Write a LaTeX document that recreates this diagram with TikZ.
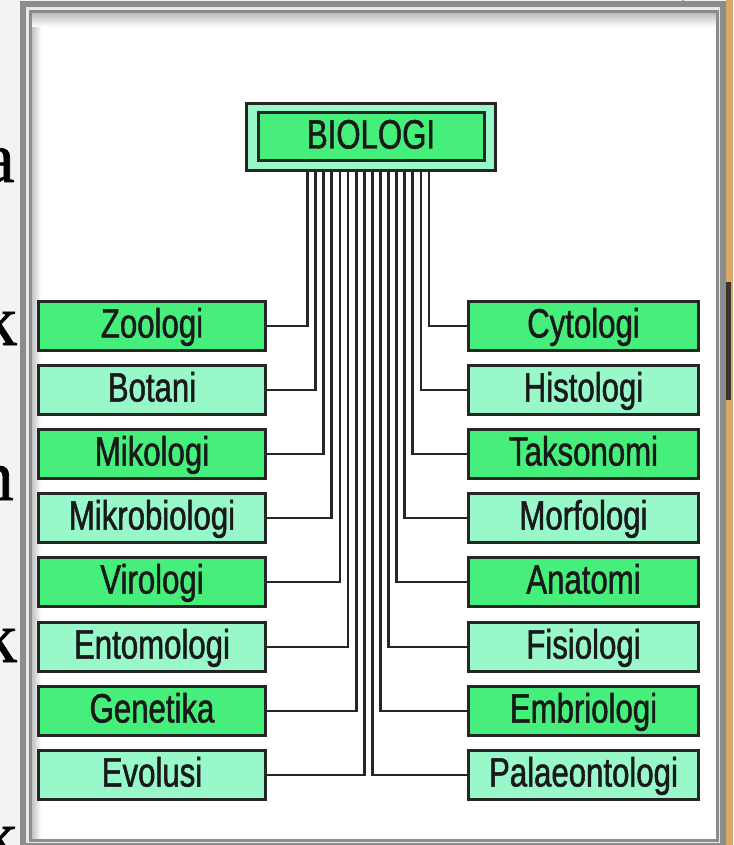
\documentclass[tikz,border=0pt]{standalone}
\usepackage{fontspec}
\newfontfamily\boxfont{Liberation Sans}[FakeStretch=0.76,FakeBold=1.2]
\newfontfamily\slidefont{Liberation Serif}[FakeBold=1]
\definecolor{leafdark}{HTML}{46EE7C}
\definecolor{leaflight}{HTML}{98F8CA}
\definecolor{edgegray}{HTML}{262626}
\definecolor{framegray}{HTML}{8C8C8C}
\definecolor{slidebg}{HTML}{F3F3F3}
\definecolor{slidetan}{HTML}{D8A868}
\definecolor{slidebar}{HTML}{3A3330}

\begin{document}
\begin{tikzpicture}[x=1pt,y=-1pt,
  box/.style={draw=edgegray,line width=3pt,minimum width=227pt,minimum height=49pt,inner sep=0pt,
    text height=31pt,text depth=8pt,text=black!90,font=\boxfont\fontsize{41}{41}\selectfont},
  dark/.style={box,fill=leafdark},
  light/.style={box,fill=leaflight},
  wide/.style={minimum width=230pt},
  link/.style={draw=edgegray,line width=2.8pt},
  ltr/.style={anchor=base east,inner sep=0pt,font=\slidefont\fontsize{72}{72}\selectfont}]
 \useasboundingbox (0,0) rectangle (733,845);
 \fill[slidebg] (0,0) rectangle (733,845);
 \begin{scope}
  \clip (0,0) rectangle (19,845);
  \node[ltr] (ltra) at (15,182) {a};
  \node[ltr] (ltrb) at (17,345) {k};
  \node[ltr] (ltrc) at (14,500) {n};
  \node[ltr] (ltrd) at (17,662) {k};
  \node[ltr] (ltre) at (17,860) {k};
 \end{scope}
 \fill[slidetan] (726,0) rectangle (733,845);
 \fill[slidebar] (724,282) rectangle (731,400);
 \draw[olive!60,line width=1.5pt] (683,0)--(683,8);
 \draw[olive!60,line width=1.5pt] (683,841)--(683,845);
 \fill[gray!18] (23,4) rectangle (723,846);
 \fill[white] (30.5,12) rectangle (717,840);
 \shade[left color=gray!55,right color=white] (30.5,12) rectangle (41,840);
 \shade[top color=gray!55,bottom color=white] (30.5,12) rectangle (717,27);
 \draw[framegray,line width=3pt] (30.5,12) rectangle (717,840);
 \draw[framegray,line width=6pt] (23,4) rectangle (723,846);

 \node[light,minimum width=249pt,minimum height=67pt] (bioframe) at (371,137) {};
 \node[dark,minimum width=226pt,minimum height=48pt] (bio) at (371,137) {BIOLOGI};

 \node[dark] (zoo) at (152,326) {Zoologi};
 \node[light] (bot) at (152,390) {Botani};
 \node[dark] (mik) at (152,454) {Mikologi};
 \node[light] (mikro) at (152,518) {Mikrobiologi};
 \node[dark] (vir) at (152,582) {Virologi};
 \node[light] (ento) at (152,647) {Entomologi};
 \node[dark] (gen) at (152,711) {Genetika};
 \node[light] (evo) at (152,775) {Evolusi};

 \node[dark,wide] (cyt) at (583.5,326) {Cytologi};
 \node[light,wide] (his) at (583.5,390) {Histologi};
 \node[dark,wide] (tak) at (583.5,454) {Taksonomi};
 \node[light,wide] (mor) at (583.5,518) {Morfologi};
 \node[dark,wide] (ana) at (583.5,582) {Anatomi};
 \node[light,wide] (fis) at (583.5,647) {Fisiologi};
 \node[dark,wide] (emb) at (583.5,711) {Embriologi};
 \node[light,wide] (pal) at (583.5,775) {Palaeontologi};

 \draw[link] ([xshift=-63.5pt]bioframe.south) |- (zoo.east);
 \draw[link] ([xshift=-55.4pt]bioframe.south) |- (bot.east);
 \draw[link] ([xshift=-47.3pt]bioframe.south) |- (mik.east);
 \draw[link] ([xshift=-39.2pt]bioframe.south) |- (mikro.east);
 \draw[link] ([xshift=-31.1pt]bioframe.south) |- (vir.east);
 \draw[link] ([xshift=-23pt]bioframe.south) |- (ento.east);
 \draw[link] ([xshift=-14.9pt]bioframe.south) |- (gen.east);
 \draw[link] ([xshift=-6.8pt]bioframe.south) |- (evo.east);
 \draw[link] ([xshift=58pt]bioframe.south) |- (cyt.west);
 \draw[link] ([xshift=49.9pt]bioframe.south) |- (his.west);
 \draw[link] ([xshift=41.8pt]bioframe.south) |- (tak.west);
 \draw[link] ([xshift=33.7pt]bioframe.south) |- (mor.west);
 \draw[link] ([xshift=25.6pt]bioframe.south) |- (ana.west);
 \draw[link] ([xshift=17.5pt]bioframe.south) |- (fis.west);
 \draw[link] ([xshift=9.4pt]bioframe.south) |- (emb.west);
 \draw[link] ([xshift=1.3pt]bioframe.south) |- (pal.west);
\end{tikzpicture}
\end{document}
